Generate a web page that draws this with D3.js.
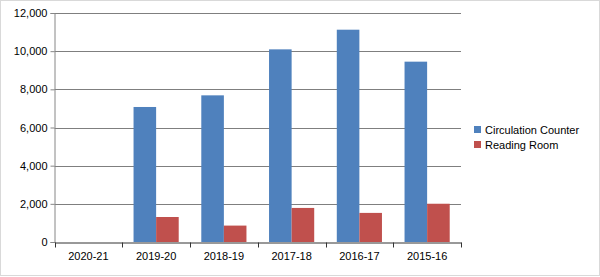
<html>
<head>
<script src="https://d3js.org/d3.v7.min.js"></script>
<style>
  body { margin: 0; background: #fff; }
  svg { display: block; font-family: "Liberation Sans", Arial, sans-serif; }
</style>
</head>
<body>
<svg id="chart"></svg>
<script>
// datos
var years = ["2020-21", "2019-20", "2018-19", "2017-18", "2016-17", "2015-16"];
var seriesNames = ["Circulation Counter", "Reading Room"];
var circulation = [0, 7075, 7685, 10095, 11125, 9450];
var readingRoom = [0, 1310, 860, 1785, 1525, 2005];
var yTicks = [0, 2000, 4000, 6000, 8000, 10000, 12000];
var colors = ["#4F81BD", "#C0504D"];

var W = 600, H = 277;
var m = {left: 54.5, right: 139, top: 13, bottom: 35};

var svg = d3.select("#chart").attr("width", W).attr("height", H);

// borde exterior
svg.append("rect")
  .attr("x", 0.5).attr("y", 0.5)
  .attr("width", W - 1).attr("height", H - 2)
  .attr("fill", "#fff").attr("stroke", "#d9d9d9");

var x = d3.scaleBand().domain(years).range([m.left, W - m.right]).paddingInner(0).paddingOuter(0);
var x1 = d3.scaleBand().domain(seriesNames).range([0, x.bandwidth()]).paddingOuter(0.5).paddingInner(0);
var y = d3.scaleLinear().domain([0, 12000]).range([H - m.bottom, m.top]);

// gridlines
svg.append("g").selectAll("line").data(yTicks.slice(1)).enter().append("line")
  .attr("x1", m.left).attr("x2", W - m.right)
  .attr("y1", d => Math.round(y(d)) + 0.5).attr("y2", d => Math.round(y(d)) + 0.5)
  .attr("stroke", "#7f7f7f").attr("stroke-width", 1);

// barras
var data = years.map((yr, i) => ({year: yr, vals: [circulation[i], readingRoom[i]]}));
var groups = svg.append("g").selectAll("g").data(data).enter().append("g")
  .attr("transform", d => "translate(" + x(d.year) + ",0)");
groups.selectAll("rect").data(d => d.vals.map((v, j) => ({name: seriesNames[j], v: v, j: j}))).enter()
  .filter(d => d.v > 0)
  .append("rect")
  .attr("x", d => x1(d.name))
  .attr("y", d => y(d.v))
  .attr("width", x1.bandwidth())
  .attr("height", d => y(0) - y(d.v))
  .attr("fill", d => colors[d.j]);

// eje y
var yAxis = svg.append("g")
  .attr("transform", "translate(" + m.left + ",0)")
  .call(d3.axisLeft(y).tickValues(yTicks).tickSize(4).tickPadding(3).tickFormat(d3.format(",")));
yAxis.select(".domain").attr("stroke", "#868686");
yAxis.selectAll(".tick line").attr("stroke", "#868686");
yAxis.selectAll("text").attr("font-size", 11).attr("fill", "#000");

// eje x
var xAxis = svg.append("g")
  .attr("transform", "translate(0," + (Math.round(y(0)) + 0.5) + ")")
  .call(d3.axisBottom(x).tickSize(0).tickPadding(10));
xAxis.select(".domain").attr("stroke", "#333");
xAxis.selectAll("text").attr("font-size", 11).attr("fill", "#000");
var bounds = years.map(d => x(d)).concat([x(years[years.length - 1]) + x.bandwidth()]);
xAxis.selectAll("line.b").data(bounds).enter().append("line")
  .attr("x1", d => Math.round(d) + 0.5).attr("x2", d => Math.round(d) + 0.5)
  .attr("y1", 0).attr("y2", 5)
  .attr("stroke", "#333");

// leyenda
var leg = svg.append("g").attr("transform", "translate(474,126)");
var items = leg.selectAll("g").data(seriesNames).enter().append("g")
  .attr("transform", (d, i) => "translate(0," + i * 15 + ")");
items.append("rect").attr("width", 7).attr("height", 7).attr("fill", (d, i) => colors[i]);
items.append("text").attr("x", 11).attr("y", 8).attr("font-size", 11).text(d => d);
</script>
</body>
</html>
